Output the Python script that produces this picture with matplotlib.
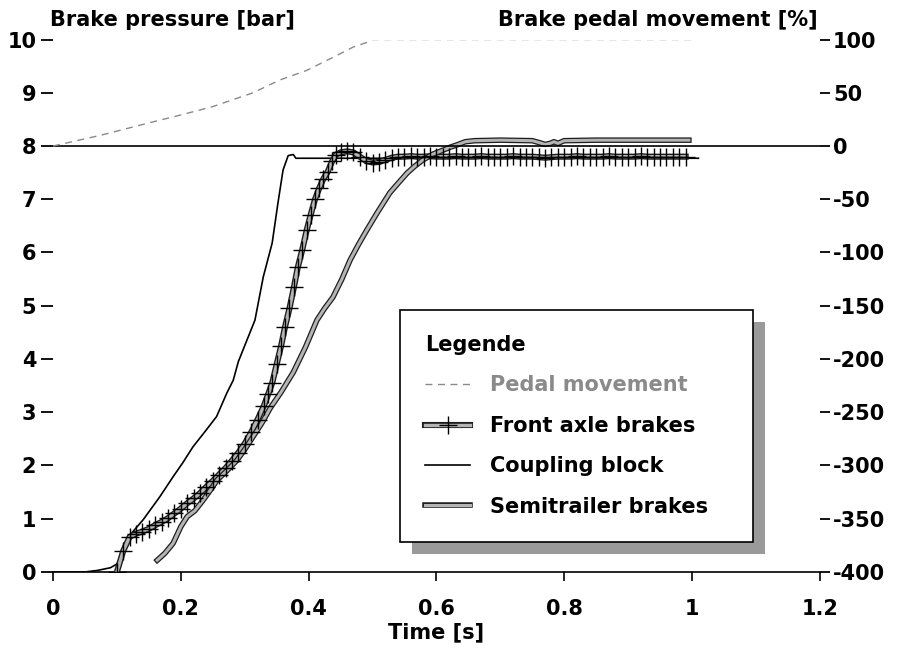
import numpy as np
import matplotlib
matplotlib.use("Agg")
import matplotlib.pyplot as plt
import matplotlib.patheffects as pe
from matplotlib.patches import Rectangle

plt.rcParams["font.family"] = ["DejaVu Sans"]
plt.rcParams["font.weight"] = "bold"
plt.rcParams["font.size"] = 15

# ----- Data -----
# pedal movement [%], right axis
pedal_t = [0.0, 0.074, 0.152, 0.199, 0.25, 0.313, 0.355, 0.397, 0.444, 0.47, 0.49, 0.50, 1.0]
pedal_p = [0, 10, 22, 29, 37, 50, 62, 71, 85, 93, 97, 100, 100]

# front axle brakes [bar], one "+" per sample
front_t = [0.10, 0.11, 0.12, 0.13, 0.14, 0.15, 0.16, 0.17, 0.18, 0.19,
           0.20, 0.21, 0.22, 0.23, 0.24, 0.25, 0.26, 0.27, 0.28, 0.29,
           0.30, 0.31, 0.32, 0.33, 0.337, 0.343, 0.35, 0.357, 0.363, 0.37,
           0.377, 0.383, 0.39, 0.397, 0.403, 0.41, 0.417, 0.423, 0.43, 0.437,
           0.443, 0.45, 0.46, 0.47, 0.48, 0.49, 0.50, 0.51, 0.52, 0.53,
           0.54, 0.55, 0.56, 0.57, 0.58, 0.59, 0.60, 0.61, 0.62, 0.63,
           0.64, 0.65, 0.66, 0.67, 0.68, 0.69, 0.70, 0.71, 0.72, 0.73,
           0.74, 0.75, 0.76, 0.77, 0.78, 0.79, 0.80, 0.81, 0.82, 0.83,
           0.84, 0.85, 0.86, 0.87, 0.88, 0.89, 0.90, 0.91, 0.92, 0.93,
           0.94, 0.95, 0.96, 0.97, 0.98, 0.99]
front_p = [0.0, 0.40, 0.66, 0.72, 0.76, 0.81, 0.88, 0.94, 1.01, 1.10,
           1.19, 1.29, 1.38, 1.48, 1.60, 1.71, 1.83, 1.95, 2.09, 2.24,
           2.41, 2.62, 2.86, 3.12, 3.35, 3.55, 3.90, 4.25, 4.60, 4.95,
           5.35, 5.72, 6.05, 6.42, 6.70, 7.00, 7.22, 7.38, 7.52, 7.72,
           7.84, 7.88, 7.90, 7.88, 7.80, 7.72, 7.69, 7.70, 7.74, 7.78,
           7.80, 7.80, 7.81, 7.80, 7.80, 7.81, 7.80, 7.80, 7.80, 7.81,
           7.80, 7.80, 7.80, 7.81, 7.80, 7.80, 7.80, 7.80, 7.81, 7.80,
           7.80, 7.80, 7.79, 7.78, 7.79, 7.80, 7.80, 7.80, 7.81, 7.80,
           7.80, 7.80, 7.80, 7.81, 7.80, 7.80, 7.80, 7.80, 7.81, 7.80,
           7.80, 7.80, 7.80, 7.80, 7.80, 7.80]

# coupling block [bar]
coupling_t = [0.0, 0.05, 0.07, 0.09, 0.10, 0.11, 0.123, 0.141, 0.167, 0.188,
              0.203, 0.219, 0.24, 0.256, 0.272, 0.282, 0.29, 0.30, 0.316, 0.329,
              0.343, 0.352, 0.36, 0.368, 0.376, 0.38, 0.39, 0.45, 0.60, 0.80, 1.01]
coupling_p = [0.0, 0.0, 0.03, 0.08, 0.15, 0.40, 0.73, 0.98, 1.41, 1.79,
              2.05, 2.35, 2.67, 2.92, 3.36, 3.60, 3.95, 4.25, 4.73, 5.54,
              6.18, 6.93, 7.55, 7.82, 7.84, 7.77, 7.77, 7.77, 7.77, 7.77, 7.77]

# semitrailer brakes [bar]
semi_t = [0.163, 0.175, 0.188, 0.20, 0.21, 0.222, 0.235, 0.247, 0.257, 0.272,
          0.288, 0.30, 0.313, 0.327, 0.34, 0.357, 0.376, 0.395, 0.413, 0.425,
          0.438, 0.452, 0.465, 0.478, 0.491, 0.507, 0.527, 0.54, 0.554, 0.566,
          0.579, 0.595, 0.61, 0.622, 0.632, 0.645, 0.66, 0.70, 0.75, 0.762,
          0.770, 0.778, 0.784, 0.790, 0.80, 0.85, 0.90, 0.95, 0.995]
semi_p = [0.22, 0.35, 0.54, 0.85, 1.04, 1.15, 1.35, 1.55, 1.73, 1.90,
          2.10, 2.30, 2.54, 2.80, 3.08, 3.38, 3.75, 4.22, 4.73, 4.95,
          5.16, 5.50, 5.86, 6.15, 6.42, 6.74, 7.12, 7.30, 7.49, 7.62,
          7.74, 7.85, 7.92, 7.98, 8.02, 8.08, 8.10, 8.11, 8.10, 8.06,
          8.03, 8.05, 8.08, 8.05, 8.10, 8.11, 8.11, 8.11, 8.11]

x_ticks = [0, 0.2, 0.4, 0.6, 0.8, 1.0, 1.2]
x_labels = ["0", "0.2", "0.4", "0.6", "0.8", "1", "1.2"]
left_ticks = [0, 1, 2, 3, 4, 5, 6, 7, 8, 9, 10]
right_ticks = [100, 50, 0, -50, -100, -150, -200, -250, -300, -350, -400]

# ----- Figure -----
fig = plt.figure(figsize=(9.14, 6.51), dpi=100)
ax = fig.add_axes([0.058, 0.1214, 0.839, 0.8179])
ax2 = ax.twinx()

ax.set_xlim(0, 1.2)
ax.set_ylim(0, 10)
ax2.set_ylim(-400, 100)
ax.patch.set_visible(False)

for a in (ax, ax2):
    for s in ("top", "left", "right", "bottom"):
        a.spines[s].set_visible(False)
ax.spines["bottom"].set_visible(True)
ax.spines["bottom"].set_linewidth(1.2)

ax.set_xticks(x_ticks)
ax.set_xticklabels(x_labels)
ax.set_yticks(left_ticks)
ax.set_yticklabels([str(v) for v in left_ticks])
ax2.set_yticks(right_ticks)
ax2.set_yticklabels([str(v) for v in right_ticks])

ax.tick_params(axis="x", direction="out", length=6.5, width=1.2, pad=13)
ax.tick_params(axis="y", direction="out", length=8.5, width=1.3, pad=3.5)
ax2.tick_params(axis="y", direction="out", length=7.5, width=1.3, pad=2)
ax.set_xlabel("Time [s]", labelpad=2, fontweight="bold")

fig.text(0.055, 0.970, "Brake pressure [bar]", ha="left", va="center")
fig.text(0.895, 0.970, "Brake pedal movement [%]", ha="right", va="center")

# zero line of the pedal axis
ax2.axhline(0, color="black", lw=1.2, zorder=1)

# curves
(pedal_line,) = ax2.plot(pedal_t, pedal_p, color="#8a8a8a", lw=1.0,
                         dashes=(5, 4), label="Pedal movement")

double = [pe.Stroke(linewidth=4.4, foreground="#1e1e1e"), pe.Normal()]
(front_line,) = ax.plot(front_t, front_p, color="#b4b4b4", lw=2.4,
                        path_effects=double, zorder=3)
(front_marks,) = ax.plot(front_t, front_p, ls="none", marker="+",
                         ms=13, mew=1.0, color="black", zorder=4)
(coupling_line,) = ax.plot(coupling_t, coupling_p, color="black", lw=1.2, zorder=2)
(semi_line,) = ax.plot(semi_t, semi_p, color="#b4b4b4", lw=2.2,
                       path_effects=[pe.Stroke(linewidth=4.0, foreground="#1e1e1e"),
                                     pe.Normal()], zorder=3)

# ----- Legend with offset shadow -----
leg = ax2.legend([pedal_line, (front_line, front_marks), coupling_line, semi_line],
                 ["Pedal movement", "Front axle brakes", "Coupling block",
                  "Semitrailer brakes"],
                 title="Legende", alignment="left",
                 loc="upper left", bbox_to_anchor=(0.452, 0.045, 0.461, 0.447),
                 mode="expand", fancybox=False, framealpha=1, edgecolor="black",
                 borderpad=1.2, labelspacing=0.98, handlelength=2.2,
                 handletextpad=0.95, borderaxespad=0)
leg.get_frame().set_linewidth(1.2)
leg.get_texts()[0].set_color("#8a8a8a")
leg.get_title().set_fontweight("bold")
leg.set_zorder(10)

fig.canvas.draw()
bb = leg.get_window_extent().transformed(ax2.transAxes.inverted())
dx = 12 / (ax2.bbox.width)
dy = 12 / (ax2.bbox.height)
ax2.add_patch(Rectangle((bb.x0 + dx, bb.y0 - dy), bb.width, bb.height,
                        transform=ax2.transAxes, facecolor="#9a9a9a",
                        edgecolor="none", zorder=9, clip_on=False))

fig.savefig("out.png", dpi=100)
